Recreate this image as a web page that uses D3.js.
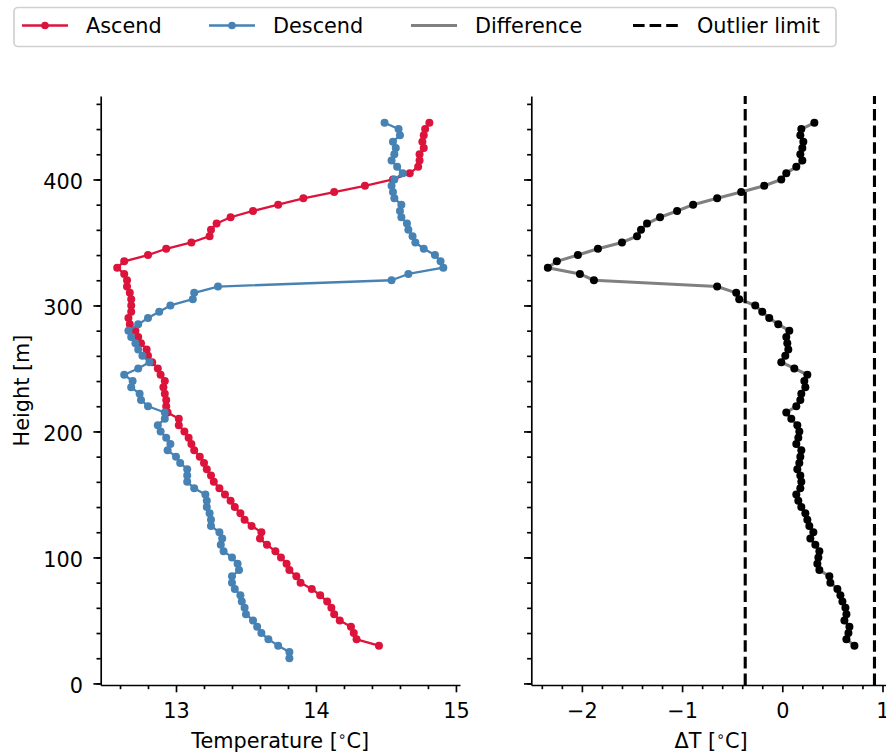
<!DOCTYPE html>
<html>
<head>
<meta charset="utf-8">
<title>Ascend / Descend profile</title>
<script src="https://cdn.jsdelivr.net/npm/d3@7"></script>
<style>
  body { margin: 0; background: #fff; }
  svg { display: block; font-family: 'DejaVu Sans', sans-serif; }
  .axis path, .axis line { stroke: #000; stroke-width: 1.67; }
  .axis text { font-size: 20.8px; fill: #000; font-family: 'DejaVu Sans', sans-serif; }
  .axis-title { font-size: 20.8px; fill: #000; }
  .legend text { font-size: 20.8px; fill: #000; }
</style>
</head>
<body>
<svg id="chart"></svg>
<script>
// Heights [m] of each sample
const heightsAscend = [30, 35, 40, 45, 50, 55, 60, 65, 70, 75, 80, 85, 90, 95, 100, 105, 110, 115, 120, 125,
  130, 135, 140, 145, 150, 155, 160, 165, 170, 175, 180, 185, 190, 195, 200, 205, 210, 215, 220, 225,
  230, 235, 240, 245, 250, 255, 260, 265, 270, 275, 280, 285, 290, 295, 300, 305, 310, 315, 320, 325,
  330, 335, 340, 345, 350, 355, 360, 365, 370, 375, 380, 385, 390, 395, 400, 405, 410, 415, 420, 425,
  430, 435, 440, 445];
const heightsDescend = [20, 25].concat(heightsAscend);
const heightsDiff = heightsAscend;

// Temperature [°C] on the way up
const ascend = [14.45, 14.29, 14.27, 14.25, 14.17, 14.13, 14.11, 14.08, 14.03, 13.97, 13.89, 13.86, 13.81, 13.79, 13.75, 13.71, 13.65, 13.60, 13.61, 13.54,
  13.49, 13.46, 13.42, 13.39, 13.35, 13.31, 13.27, 13.25, 13.22, 13.20, 13.17, 13.13, 13.11, 13.09, 13.06, 13.02, 13.02, 12.94, 12.93, 12.93,
  12.92, 12.91, 12.92, 12.89, 12.87, 12.83, 12.80, 12.79, 12.75, 12.73, 12.71, 12.67, 12.66, 12.68, 12.68, 12.68, 12.67, 12.65, 12.65, 12.63,
  12.58, 12.63, 12.80, 12.93, 13.11, 13.24, 13.25, 13.29, 13.39, 13.55, 13.73, 13.91, 14.13, 14.35, 14.55, 14.67, 14.73, 14.74, 14.74, 14.77,
  14.76, 14.77, 14.78, 14.81];

// Temperature [°C] on the way down
const descend = [13.81, 13.81, 13.73, 13.66, 13.61, 13.58, 13.55, 13.50, 13.49, 13.47, 13.46, 13.42, 13.40, 13.40, 13.45, 13.44, 13.40, 13.34, 13.32, 13.33,
  13.31, 13.25, 13.25, 13.24, 13.22, 13.22, 13.21, 13.13, 13.08, 13.08, 13.08, 13.03, 13.00, 12.94, 12.96, 12.93, 12.89, 12.87, 12.92, 12.92,
  12.80, 12.75, 12.74, 12.68, 12.69, 12.63, 12.73, 12.81, 12.76, 12.73, 12.71, 12.68, 12.66, 12.73, 12.80, 12.88, 12.96, 13.12, 13.13, 13.30,
  14.54, 14.66, 14.91, 14.89, 14.85, 14.77, 14.71, 14.69, 14.66, 14.65, 14.61, 14.60, 14.61, 14.56, 14.55, 14.54, 14.56, 14.62, 14.58, 14.54,
  14.56, 14.57, 14.55, 14.60, 14.59, 14.49];

// Ascend minus descend [°C]
const difference = [0.72, 0.64, 0.66, 0.67, 0.62, 0.64, 0.63, 0.60, 0.58, 0.55, 0.48, 0.47, 0.37, 0.35, 0.36, 0.37, 0.33, 0.28, 0.31, 0.27,
  0.25, 0.23, 0.19, 0.16, 0.14, 0.18, 0.19, 0.18, 0.15, 0.17, 0.18, 0.19, 0.14, 0.16, 0.17, 0.15, 0.09, 0.04, 0.14, 0.18,
  0.19, 0.23, 0.22, 0.25, 0.12, -0.01, 0.03, 0.06, 0.05, 0.04, 0.07, -0.04, -0.13, -0.20, -0.27, -0.43, -0.46, -0.65, -1.88, -2.02,
  -2.34, -2.25, -2.04, -1.84, -1.60, -1.45, -1.41, -1.35, -1.22, -1.05, -0.89, -0.65, -0.41, -0.18, -0.01, 0.04, 0.14, 0.20, 0.18, 0.20,
  0.21, 0.18, 0.19, 0.32];

const outlierLimits = [-0.37, 0.92];

// Ticks
const heightTicks = [0, 100, 200, 300, 400];
const tempTicks = [13, 14, 15];
const diffTicks = [-2, -1, 0, 1];
const legendLabels = ['Ascend', 'Descend', 'Difference', 'Outlier limit'];

const ascendColor = '#dc143c';
const descendColor = '#4682b4';

const width = 886, height = 754;
const svg = d3.select('#chart').attr('width', width).attr('height', height);

// Shared y scale
const yScale = d3.scaleLinear().domain([-1.25, 466.25]).range([685, 96]);

// Left panel x scale, right panel x scale
const xTemp = d3.scaleLinear().domain([12.462, 15.029]).range([100.7, 460]);
const xDiff = d3.scaleLinear().domain([-2.505, 1.081]).range([531.3, 890.6]);

const fmt = d3.format('');

function drawAxes(xScale, ticks, minorTicks, showYLabels) {
    const x0 = xScale.range()[0];

    // minor ticks first, without domain line
    svg.append('g')
        .attr('class', 'axis')
        .attr('transform', `translate(0,685)`)
        .call(d3.axisBottom(xScale).tickValues(minorTicks).tickSize(4.2).tickFormat(''))
        .call(g => g.select('.domain').remove());

    svg.append('g')
        .attr('class', 'axis')
        .attr('transform', `translate(${x0},0)`)
        .call(d3.axisLeft(yScale).tickValues(d3.range(0, 461, 20)).tickSize(4.2).tickFormat(''))
        .call(g => g.select('.domain').remove());

    svg.append('g')
        .attr('class', 'axis')
        .attr('transform', `translate(0,685)`)
        .call(d3.axisBottom(xScale).tickValues(ticks).tickSize(7.3).tickSizeOuter(0).tickPadding(10.5)
            .tickFormat(d => fmt(d)));

    const yAxisG = svg.append('g')
        .attr('class', 'axis')
        .attr('transform', `translate(${x0},0)`)
        .call(d3.axisLeft(yScale).tickValues(heightTicks).tickSize(7.3).tickSizeOuter(0).tickPadding(10.4)
            .tickFormat(showYLabels ? d => fmt(d) : ''));
    yAxisG.selectAll('text').attr('dy', '0.43em');
}

const tempMinor = d3.range(12.6, 15.01, 0.2).filter(v => Math.abs(v - Math.round(v)) > 0.01);
const diffMinor = d3.range(-2.4, 1.01, 0.2).filter(v => Math.abs(v - Math.round(v)) > 0.01);

drawAxes(xTemp, tempTicks, tempMinor, true);
drawAxes(xDiff, diffTicks, diffMinor, false);

// Profile series with line + markers
function drawSeries(xScale, xs, hs, lineColor, markerColor, lineWidth) {
    const pts = xs.map((v, i) => ({ v: v, h: hs[i] }));
    const line = d3.line().x(d => xScale(d.v)).y(d => yScale(d.h));
    const g = svg.append('g');
    g.append('path')
        .datum(pts)
        .attr('d', line)
        .attr('fill', 'none')
        .attr('stroke', lineColor)
        .attr('stroke-width', lineWidth)
        .attr('stroke-linejoin', 'round');
    g.selectAll('circle')
        .data(pts)
        .join('circle')
        .attr('cx', d => xScale(d.v))
        .attr('cy', d => yScale(d.h))
        .attr('r', 4)
        .attr('fill', markerColor);
}

drawSeries(xTemp, ascend, heightsAscend, ascendColor, ascendColor, 2.3);
drawSeries(xTemp, descend, heightsDescend, descendColor, descendColor, 2.3);
drawSeries(xDiff, difference, heightsDiff, '#808080', '#000', 3.1);

// Outlier limits
svg.selectAll('.outlier')
    .data(outlierLimits)
    .join('line')
    .attr('class', 'outlier')
    .attr('x1', d => xDiff(d))
    .attr('x2', d => xDiff(d))
    .attr('y1', yScale.range()[0])
    .attr('y2', yScale.range()[1])
    .attr('stroke', '#000')
    .attr('stroke-width', 3.1)
    .attr('stroke-dasharray', '11.6,5');

// Axis titles
svg.append('text')
    .attr('class', 'axis-title')
    .attr('x', 280.3)
    .attr('y', 747.5)
    .attr('text-anchor', 'middle')
    .html('Temperature [<tspan font-size="14px" dy="-7">∘</tspan><tspan dy="7">C]</tspan>');

svg.append('text')
    .attr('class', 'axis-title')
    .attr('x', 711)
    .attr('y', 747.5)
    .attr('text-anchor', 'middle')
    .html('ΔT [<tspan font-size="14px" dy="-7">∘</tspan><tspan dy="7">C]</tspan>');

svg.append('text')
    .attr('class', 'axis-title')
    .attr('transform', 'translate(29,390.5) rotate(-90)')
    .attr('text-anchor', 'middle')
    .text('Height [m]');

// Legend
const legend = svg.append('g').attr('class', 'legend');
legend.append('rect')
    .attr('x', 14).attr('y', 7.5)
    .attr('width', 822).attr('height', 39)
    .attr('rx', 4)
    .attr('fill', '#fff')
    .attr('stroke', '#d0d0d0')
    .attr('stroke-width', 1.67);

const handleX = [22, 209, 411, 633];
const handles = [
    { color: ascendColor, width: 2.3, marker: true, dash: null },
    { color: descendColor, width: 2.3, marker: true, dash: null },
    { color: '#808080', width: 3.1, marker: false, dash: null },
    { color: '#000', width: 3.1, marker: false, dash: '11.6,5' }
];

legendLabels.forEach((label, i) => {
    const h = handles[i];
    const x = handleX[i];
    legend.append('line')
        .attr('x1', x).attr('x2', x + 46)
        .attr('y1', 25.5).attr('y2', 25.5)
        .attr('stroke', h.color)
        .attr('stroke-width', h.width)
        .attr('stroke-dasharray', h.dash);
    if (h.marker) {
        legend.append('circle')
            .attr('cx', x + 23).attr('cy', 25.5)
            .attr('r', 3.8)
            .attr('fill', h.color);
    }
    legend.append('text')
        .attr('x', x + 64)
        .attr('y', 33.3)
        .text(label);
});
</script>
</body>
</html>
